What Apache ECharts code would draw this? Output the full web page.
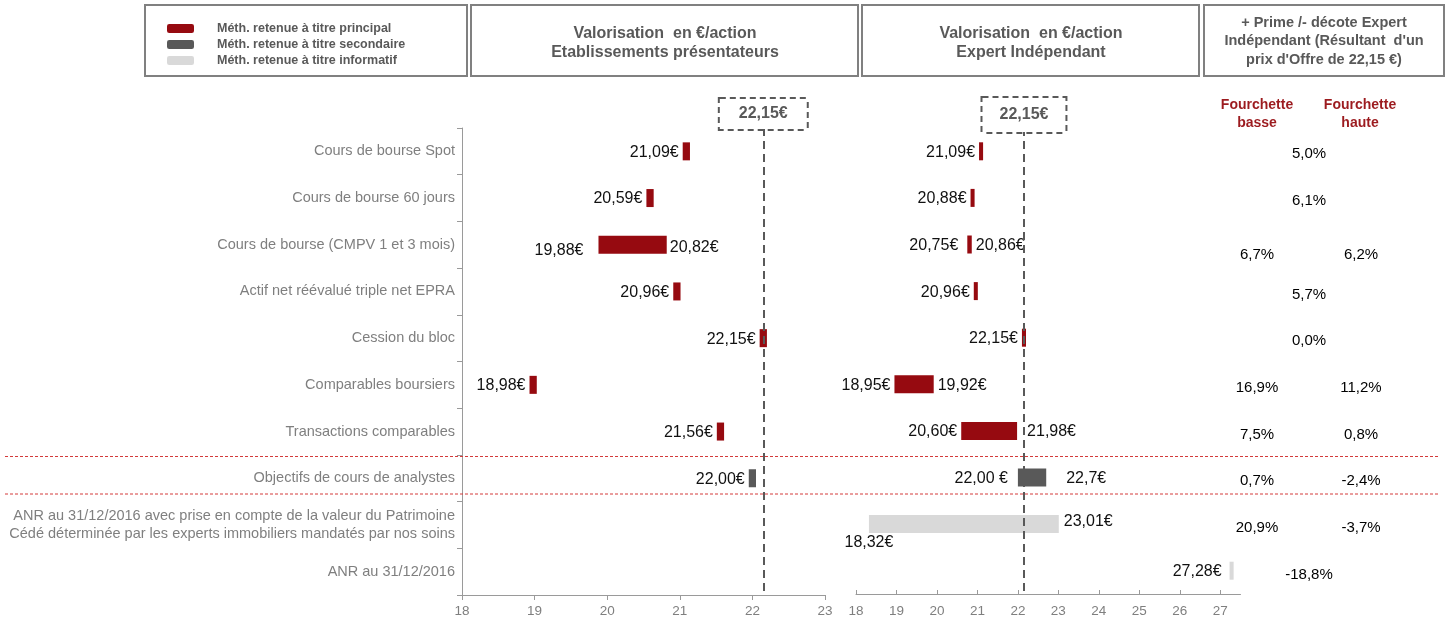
<!DOCTYPE html>
<html><head><meta charset="utf-8">
<script src="https://cdn.jsdelivr.net/npm/echarts@6/dist/echarts.min.js"></script>
<style>html,body{margin:0;padding:0;background:#fff}#c{width:1449px;height:621px}</style>
</head><body><div id="c"></div>
<script>
// ---------- DATA ----------
const categories = [
  'Cours de bourse Spot',
  'Cours de bourse 60 jours',
  'Cours de bourse (CMPV 1 et 3 mois)',
  'Actif net réévalué triple net EPRA',
  'Cession du bloc',
  'Comparables boursiers',
  'Transactions comparables',
  'Objectifs de cours de analystes',
  'ANR au 31/12/2016 avec prise en compte de la valeur du Patrimoine\nCédé déterminée par les experts immobiliers mandatés par nos soins',
  'ANR au 31/12/2016'
];
const methodTypes = ['principal','principal','principal','principal','principal','principal','principal','secondaire','informatif','informatif'];
const typeOrder = ['principal','secondaire','informatif'];
const typeNames = {
  principal: 'Méth. retenue à titre principal',
  secondaire: 'Méth. retenue à titre secondaire',
  informatif: 'Méth. retenue à titre informatif'
};
// Etablissements présentateurs (low / high, €/action)
const presLow  = [21.09, 20.59, 19.88, 20.96, 22.15, 18.98, 21.56, 22.00, null, null];
const presHigh = [21.09, 20.59, 20.82, 20.96, 22.15, 18.98, 21.56, 22.00, null, null];
// Expert Indépendant (low / high, €/action)
const expLow   = [21.09, 20.88, 20.75, 20.96, 22.15, 18.95, 20.60, 22.00, 18.32, 27.28];
const expHigh  = [21.09, 20.88, 20.86, 20.96, 22.15, 19.92, 21.98, 22.70, 23.01, 27.28];
// Prime / décote (%)
const premiumLow    = [null, null, 6.7, null, null, 16.9, 7.5, 0.7, 20.9, null];
const premiumHigh   = [null, null, 6.2, null, null, 11.2, 0.8, -2.4, -3.7, null];
const premiumSingle = [5.0, 6.1, null, 5.7, 0.0, null, null, null, null, -18.8];
const offerPrice = 22.15;
const offerLabel = '22,15€';
const presTicks = [18, 19, 20, 21, 22, 23];
const expTicks  = [18, 19, 20, 21, 22, 23, 24, 25, 26, 27];
const premiumColumns = ['Fourchette basse', 'centre', 'Fourchette haute'];
// label text exceptions as printed in the source
const labelTextOverrides = { exp: { 7: { lo: '22,00 €', hi: '22,7€' } } };

// ---------- STYLE ----------
const FONT = '"Liberation Sans", Arial, sans-serif';
const typeColors = { principal: '#960a10', secondaire: '#595959', informatif: '#d9d9d9' };
const labelTweaks = {
  pres: { 2: { lo: { gap: 15, dy: 5 }, hi: { gap: 3, dy: 2 } } },
  exp: {
    2: { lo: { gap: 9 } },
    6: { hi: { gap: 10 } },
    7: { lo: { gap: 10 }, hi: { gap: 20 } },
    8: { lo: { below: true }, hi: { gap: 5, dy: -4 } },
    9: { lo: { gap: 8 } }
  }
};
const BAR_H = 18;

function fmtEur(v) { return v.toFixed(2).replace('.', ',') + '€'; }
function fmtPct(v) { return v.toFixed(1).replace('.', ',') + '%'; }

function txt(s, x, y, align) {
  return { type: 'text', x: x, y: y,
    style: { text: s, fill: '#111', fontSize: 16, fontFamily: FONT, align: align, verticalAlign: 'middle' } };
}

function makeRender(panel, color) {
  return function (params, api) {
    const row = api.value(0), lo = api.value(1), hi = api.value(2);
    const single = lo === hi;
    const half = single ? 0.05 : 0;
    const a = api.coord([lo - half, row]);
    const b = api.coord([hi + half, row]);
    const y = a[1];
    const tw = (labelTweaks[panel] && labelTweaks[panel][row]) || {};
    const ov = (labelTextOverrides[panel] && labelTextOverrides[panel][row]) || {};
    const children = [{ type: 'rect', shape: { x: a[0], y: y - BAR_H / 2, width: b[0] - a[0], height: BAR_H }, style: { fill: color } }];
    const lt = tw.lo || {};
    const loText = ov.lo || fmtEur(lo);
    if (lt.below) children.push(txt(loText, a[0], y + 18, 'center'));
    else children.push(txt(loText, a[0] - (lt.gap != null ? lt.gap : 4), y + 1 + (lt.dy || 0), 'right'));
    if (!single) {
      const ht = tw.hi || {};
      children.push(txt(ov.hi || fmtEur(hi), b[0] + (ht.gap != null ? ht.gap : 4), y + 1 + (ht.dy || 0), 'left'));
    }
    return { type: 'group', children: children };
  };
}

function panelSeries(panel, lows, highs, axisIndex) {
  const out = [];
  typeOrder.forEach(function (t) {
    const data = [];
    lows.forEach(function (lo, i) {
      if (lo != null && methodTypes[i] === t) data.push([i, lo, highs[i]]);
    });
    out.push({
      type: 'custom', name: typeNames[t],
      xAxisIndex: axisIndex, yAxisIndex: axisIndex,
      itemStyle: { color: typeColors[t] },
      renderItem: makeRender(panel, typeColors[t]),
      encode: { x: [1, 2], y: 0 },
      data: data, clip: false, z: 2
    });
  });
  return out;
}

function offerLine(axisIndex, padH, padV, dist) {
  return {
    type: 'line', name: 'offre', xAxisIndex: axisIndex, yAxisIndex: axisIndex,
    data: [], z: 5,
    markLine: {
      silent: true, symbol: 'none', animation: false,
      lineStyle: { type: [8, 5], color: '#595959', width: 2 },
      label: {
        show: true, position: 'start', distance: dist, formatter: offerLabel,
        color: '#595959', fontWeight: 'bold', fontSize: 16, fontFamily: FONT,
        borderColor: '#595959', borderWidth: 2, borderType: [6, 4],
        padding: [padV, padH, padV, padH], backgroundColor: '#fff'
      },
      data: [{ xAxis: offerPrice }]
    }
  };
}

const pctData = [];
categories.forEach(function (c, i) {
  if (premiumSingle[i] != null) pctData.push([1, i, premiumSingle[i]]);
  if (premiumLow[i] != null) pctData.push([0, i, premiumLow[i]]);
  if (premiumHigh[i] != null) pctData.push([2, i, premiumHigh[i]]);
});

const axisGrey = '#7f7f7f';
const axisLineColor = '#9a9a9a';

const option = {
  animation: false,
  textStyle: { fontFamily: FONT },
  legend: {
    orient: 'vertical', left: 162, top: 17, itemWidth: 27, itemHeight: 9, itemGap: 3,
    icon: 'roundRect', selectedMode: false,
    data: typeOrder.map(function (t) { return typeNames[t]; }),
    textStyle: { fontSize: 12.5, fontWeight: 'bold', color: '#595959', fontFamily: FONT, padding: [0, 0, 0, 18], lineHeight: 13 }
  },
  grid: [
    { left: 462, top: 128, width: 363, height: 467 },
    { left: 856, top: 128, width: 384.5, height: 466 },
    { left: 1231, top: 128, width: 156, height: 467 }
  ],
  xAxis: [
    { gridIndex: 0, type: 'value', min: 18, max: 23, interval: 1, splitLine: { show: false },
      axisLine: { show: true, lineStyle: { color: axisLineColor } },
      axisTick: { show: true, length: 5, lineStyle: { color: axisLineColor }, customValues: presTicks },
      axisLabel: { color: axisGrey, fontSize: 13.5, margin: 9, customValues: presTicks } },
    { gridIndex: 1, type: 'value', min: 18, max: 27.5, interval: 1, splitLine: { show: false },
      axisLine: { show: true, lineStyle: { color: axisLineColor } },
      axisTick: { show: true, inside: true, length: 4, lineStyle: { color: axisLineColor }, customValues: expTicks },
      axisLabel: { color: axisGrey, fontSize: 13.5, margin: 10, customValues: expTicks } },
    { gridIndex: 2, type: 'category', data: premiumColumns, show: false }
  ],
  yAxis: [
    { gridIndex: 0, type: 'category', data: categories, inverse: true,
      axisLine: { show: true, lineStyle: { color: axisLineColor } },
      axisTick: { show: true, length: 5, lineStyle: { color: axisLineColor } },
      axisLabel: { color: axisGrey, fontSize: 14.5, margin: 7, lineHeight: 18, align: 'right' } },
    { gridIndex: 1, type: 'category', data: categories, inverse: true, show: false },
    { gridIndex: 2, type: 'category', data: categories, inverse: true, show: false }
  ],
  series: [].concat(
    panelSeries('pres', presLow, presHigh, 0),
    panelSeries('exp', expLow, expHigh, 1),
    [offerLine(0, 19, 7, -1), offerLine(1, 17, 9, -4)],
    [{
      type: 'scatter', xAxisIndex: 2, yAxisIndex: 2, symbolSize: 0,
      itemStyle: { color: '#000', opacity: 1 },
      label: { show: true, position: 'inside', offset: [0, 3], color: '#000', opacity: 1, fontSize: 15, fontFamily: FONT,
        formatter: function (p) { return fmtPct(p.value[2]); } },
      data: pctData.map(function (d) {
        return d[1] === 2 ? { value: d, label: { offset: [0, 10] } } : d;
      })
    }]
  ),
  graphic: [
    { type: 'rect', shape: { x: 145, y: 5, width: 322, height: 71 }, style: { fill: 'none', stroke: '#808080', lineWidth: 2 } },
    { type: 'rect', shape: { x: 471, y: 5, width: 387, height: 71 }, style: { fill: 'none', stroke: '#808080', lineWidth: 2 } },
    { type: 'rect', shape: { x: 862, y: 5, width: 337, height: 71 }, style: { fill: 'none', stroke: '#808080', lineWidth: 2 } },
    { type: 'rect', shape: { x: 1204, y: 5, width: 240, height: 71 }, style: { fill: 'none', stroke: '#808080', lineWidth: 2 } },
    { type: 'text', x: 665, y: 43, style: { text: 'Valorisation  en €/action\nEtablissements présentateurs', fill: '#595959', fontSize: 16, fontWeight: 'bold', fontFamily: FONT, align: 'center', verticalAlign: 'middle', lineHeight: 19 } },
    { type: 'text', x: 1031, y: 43, style: { text: 'Valorisation  en €/action\nExpert Indépendant', fill: '#595959', fontSize: 16, fontWeight: 'bold', fontFamily: FONT, align: 'center', verticalAlign: 'middle', lineHeight: 19 } },
    { type: 'text', x: 1324, y: 41, style: { text: "+ Prime /- décote Expert\nIndépendant (Résultant  d'un\nprix d'Offre de 22,15 €)", fill: '#595959', fontSize: 14.5, fontWeight: 'bold', fontFamily: FONT, align: 'center', verticalAlign: 'middle', lineHeight: 18.5 } },
    { type: 'text', x: 1257, y: 114, style: { text: 'Fourchette\nbasse', fill: '#9c1b1f', fontSize: 14, fontWeight: 'bold', fontFamily: FONT, align: 'center', verticalAlign: 'middle', lineHeight: 17.6 } },
    { type: 'text', x: 1360, y: 114, style: { text: 'Fourchette\nhaute', fill: '#9c1b1f', fontSize: 14, fontWeight: 'bold', fontFamily: FONT, align: 'center', verticalAlign: 'middle', lineHeight: 17.6 } },
    { type: 'line', shape: { x1: 5, y1: 456.5, x2: 1440, y2: 456.5 }, style: { stroke: '#d43a3a', lineDash: [3, 2], lineWidth: 1 }, z: 10 },
    { type: 'line', shape: { x1: 5, y1: 494, x2: 1440, y2: 494 }, style: { stroke: '#d43a3a', lineDash: [3, 2], lineWidth: 1 }, z: 10 }
  ]
};

const chart = echarts.init(document.getElementById('c'), null, { renderer: 'canvas' });
chart.setOption(option);
</script>
</body></html>
